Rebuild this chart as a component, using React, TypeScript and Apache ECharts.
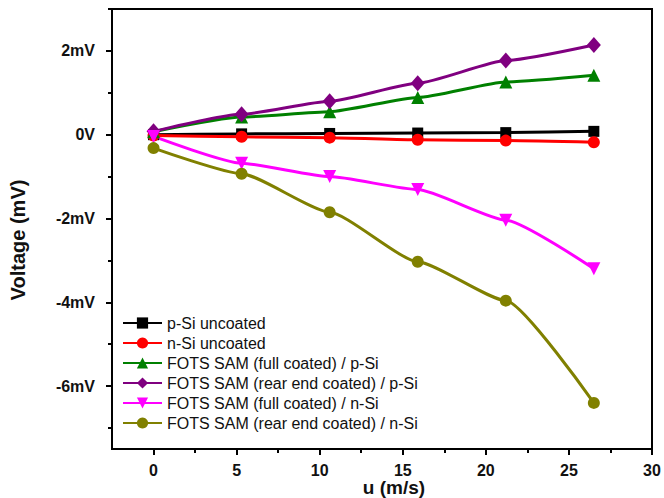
import React, { useEffect, useRef } from "react";
import * as echarts from "echarts";

// Flow speed u (m/s) at which the voltage was measured
const speeds = [0, 5.3, 10.6, 15.9, 21.2, 26.5];

// Measured voltage (mV) per sample
const pSiUncoated = [0, 0.02, 0.03, 0.04, 0.05, 0.08];
const nSiUncoated = [-0.02, -0.05, -0.07, -0.12, -0.14, -0.18];
const fotsFullPSi = [0.07, 0.42, 0.55, 0.89, 1.26, 1.42];
const fotsRearPSi = [0.08, 0.49, 0.8, 1.23, 1.77, 2.14];
const fotsFullNSi = [-0.04, -0.68, -1.0, -1.31, -2.04, -3.2];
const fotsRearNSi = [-0.32, -0.93, -1.85, -3.03, -3.96, -6.4];

const seriesNames = [
  "p-Si uncoated",
  "n-Si uncoated",
  "FOTS SAM (full coated) / p-Si",
  "FOTS SAM (rear end coated) / p-Si",
  "FOTS SAM (full coated) / n-Si",
  "FOTS SAM (rear end coated) / n-Si",
];

const xMajorTicks = [0, 5, 10, 15, 20, 25, 30];
const xMinorTicks = [2.5, 7.5, 12.5, 17.5, 22.5, 27.5];
const yMajorTicks = [-6, -4, -2, 0, 2];
const yMinorTicks = [-7, -5, -3, -1, 1, 3];

const FONT = "'Liberation Sans', Arial, Helvetica, sans-serif";

export default function App() {
  const ref = useRef<HTMLDivElement>(null);

  useEffect(() => {
    if (!ref.current) return;
    const chart = echarts.init(ref.current, null, { renderer: "svg" });

    const pairs = (ys: number[]) => speeds.map((u, i) => [u, ys[i]]);

    const mk = (
      name: string,
      ys: number[],
      color: string,
      symbol: string,
      symbolSize: number | number[],
      rotate = 0
    ) => ({
      name,
      type: "line",
      data: pairs(ys),
      smooth: 0.18,
      smoothMonotone: "x",
      symbol,
      symbolSize,
      symbolRotate: rotate,
      showAllSymbol: true,
      lineStyle: { color, width: 3 },
      itemStyle: { color, borderWidth: 0 },
      emphasis: { disabled: true },
    });

    const axisLine = { show: true, onZero: false, lineStyle: { color: "#000", width: 2 } };
    const hiddenLine = { show: false, onZero: false };

    chart.setOption({
      animation: false,
      grid: {
        left: 112,
        right: 12,
        top: 9,
        bottom: 49,
        show: true,
        borderColor: "#000",
        borderWidth: 2,
        backgroundColor: "transparent",
      },
      legend: {
        data: seriesNames,
        orient: "vertical",
        left: 122,
        top: 315,
        padding: 0,
        itemWidth: 39,
        itemHeight: 14,
        itemGap: 4,
        textStyle: { fontFamily: FONT, fontSize: 16, color: "#111" },
      },
      xAxis: [
        {
          type: "value",
          min: -2.5,
          max: 30,
          position: "bottom",
          axisLine,
          splitLine: { show: false },
          axisTick: {
            show: true,
            inside: false,
            length: 6,
            customValues: xMajorTicks,
            lineStyle: { color: "#000", width: 2 },
          },
          axisLabel: {
            customValues: xMajorTicks,
            margin: 13,
            fontFamily: FONT,
            fontSize: 16,
            fontWeight: "bold",
            color: "#111",
          },
        },
        {
          type: "value",
          min: -2.5,
          max: 30,
          position: "bottom",
          axisLine: hiddenLine,
          splitLine: { show: false },
          axisTick: {
            show: true,
            length: 4,
            customValues: xMinorTicks,
            lineStyle: { color: "#000", width: 2 },
          },
          axisLabel: { show: false },
        },
      ],
      yAxis: [
        {
          type: "value",
          min: -7.5,
          max: 3,
          position: "left",
          axisLine,
          splitLine: { show: false },
          axisTick: {
            show: true,
            length: 6,
            customValues: yMajorTicks,
            lineStyle: { color: "#000", width: 2 },
          },
          axisLabel: {
            customValues: yMajorTicks,
            margin: 17,
            fontFamily: FONT,
            fontSize: 16,
            fontWeight: "bold",
            color: "#111",
            formatter: (v: number) => (v === 0 ? "0V" : `${v}mV`),
          },
        },
        {
          type: "value",
          min: -7.5,
          max: 3,
          position: "left",
          axisLine: hiddenLine,
          splitLine: { show: false },
          axisTick: {
            show: true,
            length: 4,
            customValues: yMinorTicks,
            lineStyle: { color: "#000", width: 2 },
          },
          axisLabel: { show: false },
        },
      ],
      graphic: [
        {
          type: "text",
          x: 18,
          y: 240,
          rotation: Math.PI / 2,
          style: {
            text: "Voltage (mV)",
            fontFamily: FONT,
            fontSize: 20,
            fontWeight: "bold",
            fill: "#111",
            textAlign: "center",
            textVerticalAlign: "middle",
          },
        },
        {
          type: "text",
          x: 394,
          y: 487.5,
          style: {
            text: "u (m/s)",
            fontFamily: FONT,
            fontSize: 19,
            fontWeight: "bold",
            fill: "#111",
            textAlign: "center",
            textVerticalAlign: "middle",
          },
        },
      ],
      series: [
        mk(seriesNames[0], pSiUncoated, "#000000", "rect", 11),
        mk(seriesNames[1], nSiUncoated, "#ff0000", "circle", 12),
        mk(seriesNames[2], fotsFullPSi, "#008000", "triangle", 13),
        mk(seriesNames[3], fotsRearPSi, "#800080", "diamond", [14, 16]),
        mk(seriesNames[4], fotsFullNSi, "#ff00ff", "triangle", 13, 180),
        mk(seriesNames[5], fotsRearNSi, "#808000", "circle", 12),
      ],
    });

    return () => chart.dispose();
  }, []);

  return (
    <div
      ref={ref}
      style={{ position: "absolute", left: 0, top: 0, width: 664, height: 498 }}
    />
  );
}
